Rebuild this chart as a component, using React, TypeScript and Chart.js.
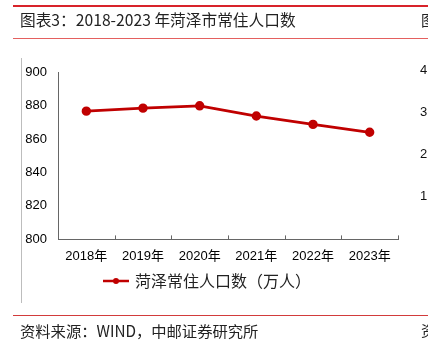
import React, { useEffect, useRef } from "react";
import { Chart, registerables } from "chart.js";

Chart.register(...registerables);

const categories = ["2018年", "2019年", "2020年", "2021年", "2022年", "2023年"];
const population = [876.6, 878.4, 879.8, 873.7, 868.7, 864.0];
const seriesName = "菏泽常住人口数（万人）";
const yMin = 800;
const yMax = 900;
const yStep = 20;
const titleText = "图表3：2018-2023 年菏泽市常住人口数";
const sourceText = "资料来源：WIND，中邮证券研究所";
const neighbourTicks = ["4", "3", "2", "1"];

const RED = "#C00000";
const FONT = "'Liberation Sans', 'Noto Sans CJK SC', sans-serif";
const CJK = "'Noto Sans CJK SC', 'Liberation Sans', sans-serif";

function makeLegendMarker(): HTMLCanvasElement {
  const c = document.createElement("canvas");
  c.width = 26;
  c.height = 8;
  const ctx = c.getContext("2d")!;
  ctx.strokeStyle = RED;
  ctx.lineWidth = 2.5;
  ctx.beginPath();
  ctx.moveTo(0, 4);
  ctx.lineTo(26, 4);
  ctx.stroke();
  ctx.fillStyle = RED;
  ctx.beginPath();
  ctx.arc(13, 4, 3, 0, Math.PI * 2);
  ctx.fill();
  return c;
}

const innerTicks = {
  id: "innerTicks",
  afterDatasetsDraw(chart: any) {
    const x = chart.scales.x;
    const ctx = chart.ctx;
    const bottom = chart.chartArea.bottom;
    ctx.save();
    ctx.strokeStyle = "#666";
    ctx.lineWidth = 1;
    const n = categories.length;
    for (let i = 0; i <= n; i++) {
      let px: number;
      if (i === 0) px = x.left;
      else if (i === n) px = x.right;
      else px = (x.getPixelForValue(i - 1) + x.getPixelForValue(i)) / 2;
      px = Math.round(px) + 0.5;
      ctx.beginPath();
      ctx.moveTo(px, bottom);
      ctx.lineTo(px, bottom - 4);
      ctx.stroke();
    }
    ctx.restore();
  },
};

export default function App() {
  const ref = useRef<HTMLCanvasElement>(null);

  useEffect(() => {
    if (!ref.current) return;
    const marker = makeLegendMarker();
    const chart = new Chart(ref.current, {
      type: "line",
      data: {
        labels: categories,
        datasets: [
          {
            label: seriesName,
            data: population,
            borderColor: RED,
            backgroundColor: RED,
            borderWidth: 2.8,
            pointRadius: 3.3,
            pointBackgroundColor: RED,
            pointBorderColor: RED,
            pointStyle: "circle",
            tension: 0,
          },
        ],
      },
      options: {
        animation: false,
        responsive: false,
        devicePixelRatio: 1,
        layout: { padding: { left: 18, right: 30, top: 72, bottom: 49 } },
        plugins: {
          title: { display: false },
          tooltip: { enabled: false },
          legend: {
            display: true,
            position: "bottom",
            labels: {
              usePointStyle: true,
              pointStyleWidth: 22,
              color: "#222",
              padding: 0,
              font: { size: 16, family: CJK },
              generateLabels: (c: any) => {
                const items = Chart.defaults.plugins.legend.labels.generateLabels(c);
                items.forEach((it: any) => (it.pointStyle = marker));
                return items;
              },
            },
          },
        },
        scales: {
          x: {
            offset: true,
            grid: { display: true, drawOnChartArea: false, drawTicks: false, offset: true },
            border: { display: true, color: "#666", width: 1 },
            ticks: { color: "#000", font: { size: 13, family: FONT }, padding: 9, maxRotation: 0 },
          },
          y: {
            min: yMin,
            max: yMax,
            grid: { display: true, drawOnChartArea: false, drawTicks: false },
            border: { display: true, color: "#666", width: 1 },
            ticks: { stepSize: yStep, color: "#000", font: { size: 13, family: FONT }, padding: 11 },
            afterFit: (s: any) => {
              s.width = 40;
            },
          },
        },
      },
      plugins: [innerTicks],
    });
    return () => chart.destroy();
  }, []);

  const abs: React.CSSProperties = { position: "absolute" };
  return (
    <div
      style={{
        position: "absolute",
        left: 0,
        top: 0,
        width: 428,
        height: 348,
        overflow: "hidden",
        background: "#fff",
      }}
    >
      <canvas ref={ref} width={428} height={348} style={{ ...abs, left: 0, top: 0, width: 428, height: 348 }} />
      <div style={{ ...abs, left: 13, top: 5, width: 415, height: 2, background: "#D8232A" }} />
      <div style={{ ...abs, left: 13, top: 38, width: 415, height: 1, background: "#E4605F" }} />
      <div style={{ ...abs, left: 13, top: 315, width: 415, height: 1, background: "#D23B3B" }} />
      <div style={{ ...abs, left: 21, top: 58, width: 1, height: 245, background: "#bdbdbd" }} />
      <div style={{ ...abs, left: 20, top: 10, fontFamily: CJK, fontSize: 15.7, lineHeight: "20px", color: "#222", whiteSpace: "nowrap" }}>
        {titleText}
      </div>
      <div style={{ ...abs, left: 421, top: 10, fontFamily: CJK, fontSize: 15, lineHeight: "20px", color: "#222" }}>图</div>
      <div style={{ ...abs, left: 20, top: 320, fontFamily: CJK, fontSize: 15.3, lineHeight: "20px", color: "#222", whiteSpace: "nowrap" }}>
        {sourceText}
      </div>
      <div style={{ ...abs, left: 421, top: 320, fontFamily: CJK, fontSize: 15, lineHeight: "20px", color: "#222" }}>资</div>
      {neighbourTicks.map((t, i) => (
        <div
          key={t}
          style={{ ...abs, left: 420, top: 62 + i * 42, fontFamily: FONT, fontSize: 13, lineHeight: "16px", color: "#111" }}
        >
          {t}
        </div>
      ))}
    </div>
  );
}
